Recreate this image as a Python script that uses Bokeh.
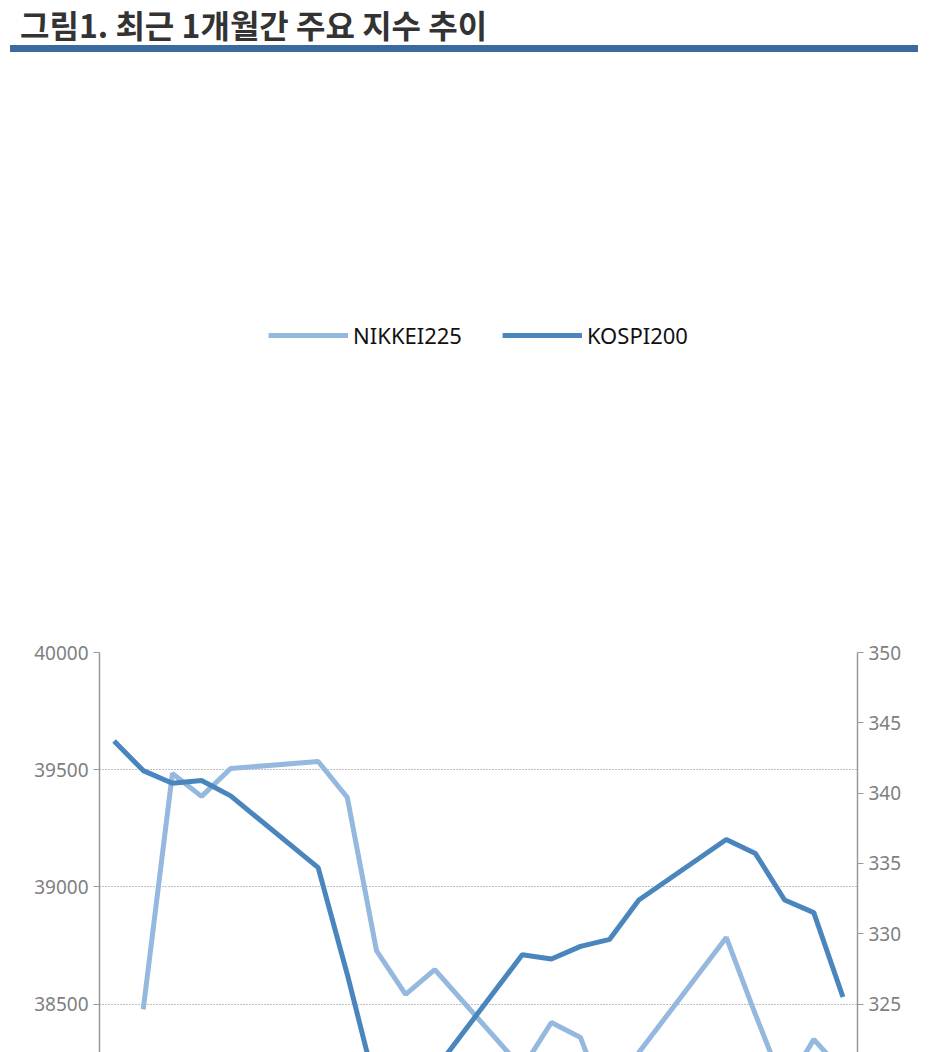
import numpy as np
import pandas as pd
from bokeh.plotting import figure
from bokeh.layouts import column
from bokeh.models import (Div, LinearAxis, Range1d, Legend, LegendItem, FixedTicker,
                          DatetimeTickFormatter, ColumnDataSource, Title)
from bokeh.embed import file_html
from bokeh.resources import INLINE

dates = ["2024-11-04", "2024-11-05", "2024-11-06", "2024-11-07", "2024-11-08",
         "2024-11-11", "2024-11-12", "2024-11-13", "2024-11-14", "2024-11-15",
         "2024-11-18", "2024-11-19", "2024-11-20", "2024-11-21", "2024-11-22",
         "2024-11-25", "2024-11-26", "2024-11-27", "2024-11-28", "2024-11-29"]
nikkei = [np.nan, 38477, 39484, 39386, 39505,
          39535, 39381, 38728, 38541, 38647,
          38225, 38421, 38357, 38028, 38293,
          38784, 38455, 38139, 38349, 38212]
kospi = [343.7, 341.6, 340.7, 340.9, 339.8,
         334.7, 327.1, 318.9, 317.8, 320.3,
         328.5, 328.2, 329.1, 329.6, 332.4,
         336.7, 335.7, 332.4, 331.5, 325.5]
tick_dates = ["2024-11-04", "2024-11-11", "2024-11-18", "2024-11-25"]

# points sit at midday, like a category axis
x = pd.to_datetime(dates) + pd.Timedelta(hours=12)
src = ColumnDataSource(dict(x=x, nikkei=nikkei, kospi=kospi))

FONT = "Noto Sans"
GREY = "#808080"

title = Div(text="그림1. 최근 1개월간 주요 지수 추이", width=918, height=47,
            styles={"font-family": "Noto Sans CJK KR", "font-weight": "bold", "font-size": "32px",
                    "color": "#333333", "margin-left": "10px", "padding-left": "10px",
                    "border-bottom": "7px solid #3a6aa0", "line-height": "38px", "width": "908px"})

p = figure(width=920, frame_width=758, frame_height=703, x_axis_type="datetime",
           output_backend="svg", toolbar_location=None, min_border_left=99, min_border_right=63,
           min_border_top=0, min_border_bottom=72,
           x_range=Range1d(pd.Timestamp("2024-11-04"), pd.Timestamp("2024-11-30")),
           y_range=Range1d(37000, 40000))
p.outline_line_color = None
p.xgrid.visible = False
p.ygrid.grid_line_color = "#808080"
p.ygrid.grid_line_dash = "1 2"
p.extra_y_ranges = {"k": Range1d(300, 350)}

r1 = p.line("x", "nikkei", source=src, color="#95b8df", line_width=5)
r2 = p.line("x", "kospi", source=src, color="#4a86bd", line_width=5, y_range_name="k")

right = LinearAxis(y_range_name="k", ticker=FixedTicker(ticks=list(range(300, 351, 5))))
p.add_layout(right, "right")
p.yaxis[0].ticker = FixedTicker(ticks=list(range(37000, 40001, 500)))
p.xaxis.ticker = FixedTicker(ticks=[pd.Timestamp(d).value / 1e6 for d in tick_dates])
p.xaxis.formatter = DatetimeTickFormatter(days="%Y-%m-%d", months="%Y-%m-%d")

for ax in p.axis:
    ax.axis_line_color = "#999999"
    ax.axis_line_width = 1.5
    ax.major_tick_line_color = "#999999"
    ax.minor_tick_line_color = None
    ax.major_tick_out = 6
    ax.major_tick_in = 0
    ax.major_label_text_font = FONT
    ax.major_label_text_font_size = "19px"
    ax.major_label_text_color = GREY
p.xaxis.major_label_standoff = 12

# spacer between frame and legend
p.add_layout(Title(text=" ", text_font_size="24px"), "above")
legend = Legend(items=[LegendItem(label="NIKKEI225", renderers=[r1]),
                       LegendItem(label="KOSPI200", renderers=[r2])],
                orientation="horizontal", location="center", border_line_color=None,
                label_text_font=FONT, label_text_font_size="22px", label_text_color="#111111",
                glyph_width=80, spacing=40, margin=28, padding=0)
p.add_layout(legend, "above")

note = Div(text="주) 최근 4주간 기준", width=918, height=60,
           styles={"font-family": "Noto Sans CJK KR", "font-size": "25px", "color": "#222222",
                   "margin-left": "10px", "padding-left": "8px", "border-top": "7px solid #3a6aa0",
                   "width": "910px", "line-height": "46px"})

page = column(title, p, note, spacing=0)
open("out.html", "w").write(file_html(page, INLINE))
